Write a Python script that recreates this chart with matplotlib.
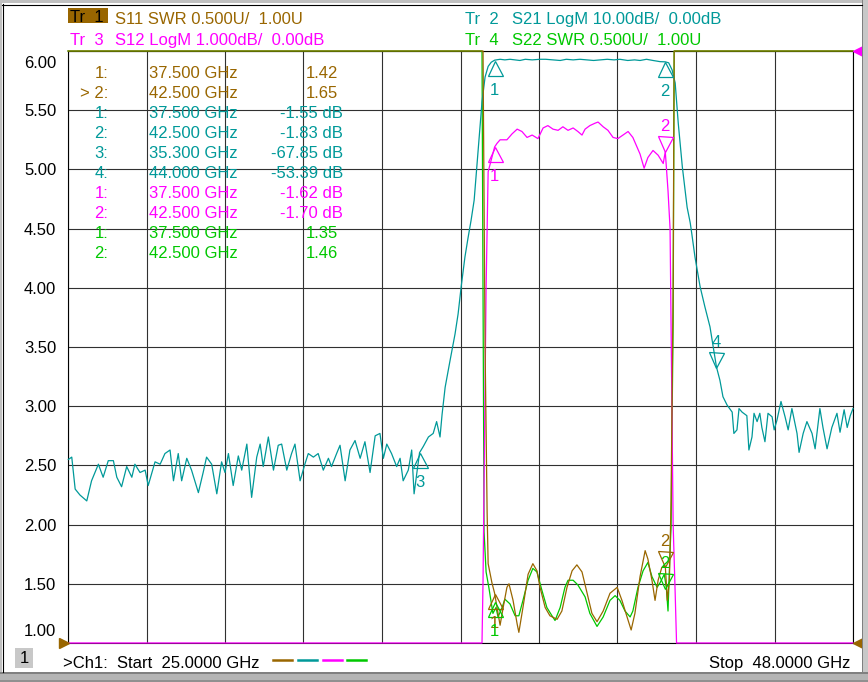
import numpy as np
import matplotlib
matplotlib.use("Agg")
import matplotlib.pyplot as plt
from matplotlib.patches import Rectangle
from matplotlib.lines import Line2D
from matplotlib.transforms import offset_copy, ScaledTranslation

plt.rcParams['font.family'] = ['Liberation Sans', 'DejaVu Sans']

W, H = 868, 682
FS = 12

BROWN = '#996600'
TEAL = '#009999'
MAGENTA = '#ff00ff'
GREEN = '#00c800'

# sweep, GHz
f_start, f_stop = 25.0, 48.0
y_ticks = [1.0, 1.5, 2.0, 2.5, 3.0, 3.5, 4.0, 4.5, 5.0, 5.5, 6.0]

# Tr 2: S21 LogM (dB)
s21_f = [25.01, 25.11, 25.21, 25.35, 25.55, 25.69, 25.89, 26.03, 26.18, 26.33,
         26.43, 26.57, 26.72, 26.87, 26.96, 27.11, 27.26, 27.35, 27.55, 27.70,
         27.84, 27.99, 28.09, 28.23, 28.33, 28.48, 28.62, 28.82, 28.96, 29.06,
         29.21, 29.36, 29.50, 29.60, 29.70, 29.84, 29.99, 30.09, 30.24, 30.38,
         30.53, 30.63, 30.72, 30.87, 31.02, 31.16, 31.26, 31.41, 31.55, 31.65,
         31.80, 31.94, 32.04, 32.19, 32.33, 32.48, 32.63, 32.72, 32.87, 32.97,
         33.12, 33.26, 33.41, 33.56, 33.70, 33.85, 34.00, 34.14, 34.24, 34.34,
         34.48, 34.63, 34.73, 34.82, 34.97, 35.07, 35.14, 35.30, 35.41, 35.56,
         35.70, 35.80, 35.90,
         35.96, 36.05, 36.19, 36.34, 36.43, 36.52, 36.63, 36.72, 36.81, 36.90,
         37.04, 37.13, 37.22, 37.31, 37.40,
         37.50, 37.66, 37.80, 37.95, 38.10, 38.24, 38.40, 38.60, 38.83, 39.00,
         39.20, 39.42, 39.60, 39.80, 40.00, 40.20, 40.40, 40.59, 40.80, 41.00,
         41.17, 41.40, 41.60, 41.76, 41.95, 42.14, 42.35, 42.50, 42.60, 42.70,
         42.79, 42.88, 43.00, 43.14, 43.23, 43.28, 43.37, 43.52, 43.66, 43.81,
         44.00,
         44.10, 44.19, 44.31, 44.46, 44.51, 44.60, 44.66, 44.75, 44.89, 44.95,
         45.04, 45.10, 45.19, 45.27, 45.33, 45.42, 45.51, 45.63, 45.69, 45.77,
         45.89, 46.01, 46.10, 46.21, 46.36, 46.42, 46.54, 46.65, 46.80, 46.89,
         47.03, 47.12, 47.24, 47.38, 47.53, 47.62, 47.74, 47.83, 47.92, 48.00]
s21_db = [-69.0, -68.6, -74.0, -75.0, -76.0, -72.6, -69.8, -72.0, -69.2, -69.2,
          -72.0, -73.6, -70.2, -72.0, -69.8, -71.2, -70.8, -73.4, -69.4, -69.8,
          -68.0, -67.4, -72.6, -68.0, -72.6, -68.8, -70.8, -74.6, -71.2, -68.6,
          -69.8, -74.8, -69.4, -71.2, -68.0, -73.4, -68.4, -70.8, -66.4, -75.4,
          -68.6, -66.4, -70.2, -65.2, -70.8, -66.6, -66.4, -70.8, -68.0, -66.4,
          -72.6, -69.8, -68.0, -68.6, -68.0, -70.8, -68.8, -70.2, -68.0, -66.6,
          -72.6, -67.4, -65.8, -68.8, -66.0, -71.2, -65.0, -64.6, -68.8, -66.4,
          -68.0, -70.2, -68.8, -72.6, -70.8, -67.4, -74.8, -67.85, -66.8, -65.2,
          -64.6, -62.6, -65.2,
          -61.4, -56.8, -52.4, -47.8, -44.4, -39.8, -34.8, -31.6, -28.6, -25.2,
          -15.0, -8.6, -4.4, -2.6, -1.9,
          -1.55, -1.4, -1.5, -1.4, -1.5, -1.6, -1.4, -1.5, -1.4, -1.4,
          -1.5, -1.6, -1.4, -1.5, -1.4, -1.5, -1.6, -1.5, -1.4, -1.5,
          -1.4, -1.6, -1.5, -1.6, -1.4, -1.6, -1.8, -1.83, -2.0, -3.2,
          -5.4, -12.2, -19.6, -26.4, -29.0, -31.0, -34.8, -39.8, -43.2, -46.6,
          -53.39,
          -55.6, -58.4, -59.8, -61.0, -64.6, -64.0, -60.4, -61.0, -61.6, -67.4,
          -65.2, -61.2, -62.6, -61.2, -63.6, -66.0, -61.2, -61.8, -64.0, -62.4,
          -59.2, -61.8, -64.0, -60.4, -64.6, -67.8, -64.6, -62.6, -64.6, -67.2,
          -60.4, -63.6, -67.2, -63.6, -61.2, -64.4, -60.6, -63.6, -61.6, -60.4]

# Tr 3: S12 LogM (dB)
s12_f = [25.00, 37.13, 37.16, 37.25, 37.31, 37.50, 37.57, 37.66, 37.86, 38.01,
         38.16, 38.30, 38.45, 38.60, 38.77, 38.92, 39.06, 39.21, 39.36, 39.50,
         39.65, 39.80, 39.94, 40.06, 40.15, 40.29, 40.44, 40.53, 40.68, 40.82,
         40.97, 41.11, 41.26, 41.41, 41.55, 41.67, 41.76, 41.88, 41.99, 42.14,
         42.29, 42.44, 42.50, 42.58, 42.64, 42.73, 42.79, 42.83, 48.00]
s12_db = [-30.0, -30.0, -8.96, -4.0, -2.04, -1.62, -1.56, -1.50, -1.50, -1.40,
          -1.32, -1.36, -1.46, -1.42, -1.48, -1.30, -1.26, -1.32, -1.34, -1.28,
          -1.34, -1.30, -1.36, -1.42, -1.32, -1.26, -1.22, -1.20, -1.28, -1.34,
          -1.46, -1.48, -1.42, -1.36, -1.46, -1.62, -1.74, -1.98, -1.80, -1.68,
          -1.76, -1.90, -1.70, -2.36, -3.0, -8.0, -9.16, -30.0, -30.0]

# Tr 1: S11 SWR
s11_f = [25.00, 37.16, 37.22, 37.28, 37.31, 37.42, 37.50, 37.57, 37.66, 37.75,
         37.86, 37.92, 38.04, 38.16, 38.21, 38.33, 38.48, 38.62, 38.74, 38.83,
         38.98, 39.12, 39.33, 39.47, 39.62, 39.77, 39.91, 40.06, 40.21, 40.35,
         40.50, 40.68, 40.88, 41.09, 41.23, 41.38, 41.50, 41.61, 41.76, 41.91,
         41.99, 42.11, 42.20, 42.29, 42.40, 42.50, 42.56, 42.62, 42.67, 42.73,
         42.76, 48.00]
s11_swr = [9.0, 9.0, 3.5, 2.1, 1.67, 1.51, 1.42, 1.30, 1.15, 1.30,
           1.47, 1.50, 1.36, 1.16, 1.09, 1.30, 1.58, 1.67, 1.61, 1.47,
           1.30, 1.23, 1.20, 1.27, 1.47, 1.61, 1.66, 1.60, 1.42, 1.25,
           1.18, 1.27, 1.42, 1.47, 1.36, 1.22, 1.11, 1.25, 1.56, 1.78,
           1.71, 1.53, 1.36, 1.53, 1.64, 1.65, 1.36, 1.53, 2.2, 4.0,
           9.0, 9.0]

# Tr 4: S22 SWR
s22_f = [25.00, 37.13, 37.19, 37.25, 37.33, 37.45, 37.54, 37.60, 37.72, 37.80,
         37.95, 38.10, 38.21, 38.33, 38.48, 38.62, 38.74, 38.89, 39.03, 39.18,
         39.27, 39.42, 39.56, 39.65, 39.80, 39.94, 40.15, 40.29, 40.50, 40.68,
         40.88, 41.03, 41.17, 41.32, 41.47, 41.55, 41.70, 41.85, 41.99, 42.11,
         42.26, 42.35, 42.47, 42.53, 42.58, 42.64, 42.67, 42.70, 42.73, 42.76,
         48.00]
s22_swr = [9.0, 9.0, 1.94, 1.6, 1.47, 1.25, 1.30, 1.22, 1.30, 1.37,
           1.33, 1.23, 1.23, 1.36, 1.53, 1.63, 1.60, 1.44, 1.30, 1.23,
           1.19, 1.30, 1.47, 1.53, 1.53, 1.49, 1.39, 1.25, 1.14, 1.22,
           1.36, 1.40, 1.36, 1.27, 1.22, 1.27, 1.47, 1.61, 1.68, 1.56,
           1.47, 1.51, 1.58, 1.47, 1.27, 1.78, 1.98, 2.9, 3.7, 9.0,
           9.0]

# markers (GHz, value)
s11_mk_f = [37.5, 42.5]
s11_mk = [1.42, 1.65]
s21_mk_f = [37.5, 42.5, 35.3, 44.0]
s21_mk = [-1.55, -1.83, -67.85, -53.39]
s12_mk_f = [37.5, 42.5]
s12_mk = [-1.62, -1.70]
s22_mk_f = [37.5, 42.5]
s22_mk = [1.35, 1.46]


# screen units: SWR 0.5/div ref 1.00 at bottom, S21 10 dB/div ref 0 at top, S12 1 dB/div ref 0 at top
def swr_disp(v):
    return np.asarray(v, float)


def s21_disp(v):
    return 6 + np.asarray(v, float) / 20


def s12_disp(v):
    return 6 + np.asarray(v, float) / 2


fig = plt.figure(figsize=(W / 100, H / 100), dpi=100, facecolor='white')


def fx(px):
    return px / W


def fy(py):
    return 1 - py / H


def band(x0, y0, x1, y1, color):
    fig.add_artist(Rectangle((fx(x0), fy(y1)), (x1 - x0) / W, (y1 - y0) / H,
                             transform=fig.transFigure, facecolor=color,
                             edgecolor='none'))


def ftext(px, py, s, **kw):
    kw.setdefault('fontsize', FS)
    fig.text(fx(px), fy(py), s, **kw)


# window frame
band(0, 0, W, 3, '#c0c0c0')
band(0, 0, 2, 672, '#c0c0c0')
band(862, 0, W, H, '#c8c8c8')
band(862, 0, 863, 672, '#808080')
band(0, 672, W, H, '#b4b4b4')
band(0, 672, W, 674, '#808080')
band(0, 680, W, H, '#909090')
fig.add_artist(Line2D([fx(2), fx(862)], [fy(4.5), fy(4.5)], color='black', lw=0.8,
                      transform=fig.transFigure))
fig.add_artist(Line2D([fx(2.5), fx(2.5)], [fy(4), fy(672)], color='black', lw=0.8,
                      transform=fig.transFigure))

ax = fig.add_axes([fx(68), fy(643), 785 / W, 592 / H])
ax.set_xlim(f_start, f_stop)
ax.set_ylim(1, 6)
ax.set_facecolor('white')
ax.set_xticks(np.linspace(f_start, f_stop, 11))
ax.set_xticklabels([])
ax.set_yticks(y_ticks)
ax.set_yticklabels(['%.2f' % t for t in y_ticks])
ax.tick_params(length=0, pad=8.5, labelsize=FS, colors='black')
ax.grid(True, color='#303030', lw=0.8)
ax.set_axisbelow(True)
for sp in ax.spines.values():
    sp.set_color('black')
    sp.set_linewidth(0.8)

# first/last scale labels sit inside the graticule
labs = ax.get_yticklabels()
labs[0].set_transform(labs[0].get_transform() + ScaledTranslation(0, 12.5 / 100, fig.dpi_scale_trans))
labs[-1].set_transform(labs[-1].get_transform() + ScaledTranslation(0, -10.5 / 100, fig.dpi_scale_trans))

traces = [
    (s22_f, swr_disp(s22_swr), GREEN),
    (s12_f, s12_disp(s12_db), MAGENTA),
    (s21_f, s21_disp(s21_db), TEAL),
    (s11_f, swr_disp(s11_swr), BROWN),
]
for i, (f, d, c) in enumerate(traces):
    ax.plot(f, np.clip(d, 1, 6), color=c, lw=0.9, zorder=3 + i, clip_on=False)


def marker(f, y, color, num, down):
    ms = 15 * 72 / 100
    if down:
        tr = offset_copy(ax.transData, fig=fig, x=0, y=7.5, units='dots')
        ax.plot([f], [y], marker='v', ms=ms, mfc='none', mec=color, mew=0.9,
                transform=tr, clip_on=False, zorder=8)
        tt = offset_copy(ax.transData, fig=fig, x=0, y=25, units='dots')
    else:
        tr = offset_copy(ax.transData, fig=fig, x=0, y=-7.5, units='dots')
        ax.plot([f], [y], marker='^', ms=ms, mfc='none', mec=color, mew=0.9,
                transform=tr, clip_on=False, zorder=8)
        tt = offset_copy(ax.transData, fig=fig, x=0, y=-30, units='dots')
    ax.text(f, y, str(num), transform=tt, color=color, fontsize=FS,
            ha='center', va='center', zorder=9)


mk_sets = [
    (s11_mk_f, swr_disp(s11_mk), BROWN, [False, True]),
    (s21_mk_f, s21_disp(s21_mk), TEAL, [False, False, False, True]),
    (s12_mk_f, s12_disp(s12_mk), MAGENTA, [False, True]),
    (s22_mk_f, swr_disp(s22_mk), GREEN, [False, True]),
]
for f, d, c, downs in mk_sets:
    for k, (ff, dd, dn) in enumerate(zip(f, d, downs)):
        marker(ff, dd, c, k + 1, dn)

# reference position arrows
ref_l = offset_copy(ax.transData, fig=fig, x=-4, y=0, units='dots')
ref_r = offset_copy(ax.transData, fig=fig, x=4.5, y=0, units='dots')
ax.plot([f_start], [1], marker='>', ms=7, color=BROWN, transform=ref_l, clip_on=False, zorder=9)
ax.plot([f_stop], [1], marker='<', ms=7, color=BROWN, transform=ref_r, clip_on=False, zorder=9)
ax.plot([f_stop], [6], marker='<', ms=7.5, color=MAGENTA, transform=ref_r, clip_on=False, zorder=9)

# marker readout table
rows = []
for k, (f, v) in enumerate(zip(s11_mk_f, s11_mk)):
    rows.append((BROWN, ('> ' if k == 1 else '') + '%d:' % (k + 1), f, '%.2f' % v, 338))
for k, (f, v) in enumerate(zip(s21_mk_f, s21_mk)):
    rows.append((TEAL, '%d:' % (k + 1), f, '%.2f dB' % v, 343))
for k, (f, v) in enumerate(zip(s12_mk_f, s12_mk)):
    rows.append((MAGENTA, '%d:' % (k + 1), f, '%.2f dB' % v, 343))
for k, (f, v) in enumerate(zip(s22_mk_f, s22_mk)):
    rows.append((GREEN, '%d:' % (k + 1), f, '%.2f' % v, 338))
for r, (c, idx, f, val, xr) in enumerate(rows):
    yb = 78.5 + 20 * r
    ftext(108, yb, idx, color=c, ha='right', va='baseline')
    ftext(149, yb, '%.3f GHz' % f, color=c, ha='left', va='baseline')
    ftext(xr, yb, val, color=c, ha='right', va='baseline')

# header
band(68, 8, 108, 23, BROWN)
ftext(70, 21.5, 'Tr  1', color='black', va='baseline')
ftext(115, 24, 'S11 SWR 0.500U/  1.00U', color=BROWN, va='baseline')
ftext(70, 45, 'Tr  3', color=MAGENTA, va='baseline')
ftext(115, 45, 'S12 LogM 1.000dB/  0.00dB', color=MAGENTA, va='baseline')
ftext(465, 24, 'Tr  2', color=TEAL, va='baseline')
ftext(512, 24, 'S21 LogM 10.00dB/  0.00dB', color=TEAL, va='baseline')
ftext(465, 45, 'Tr  4', color=GREEN, va='baseline')
ftext(512, 45, 'S22 SWR 0.500U/  1.00U', color=GREEN, va='baseline')

# footer
band(15, 648, 33, 668, '#c8c8c8')
ftext(24, 663, '1', color='black', ha='center', va='baseline')
ftext(63, 668, '>Ch1:  Start  25.0000 GHz', color='black', va='baseline')
for x0, c in zip([273, 298, 323, 347], [BROWN, TEAL, MAGENTA, GREEN]):
    fig.add_artist(Line2D([fx(x0), fx(x0 + 19)], [fy(660), fy(660)], color=c, lw=1.8,
                          transform=fig.transFigure))
ftext(850, 668, 'Stop  48.0000 GHz', color='black', ha='right', va='baseline')

fig.savefig('out.png', dpi=100, facecolor='white')
